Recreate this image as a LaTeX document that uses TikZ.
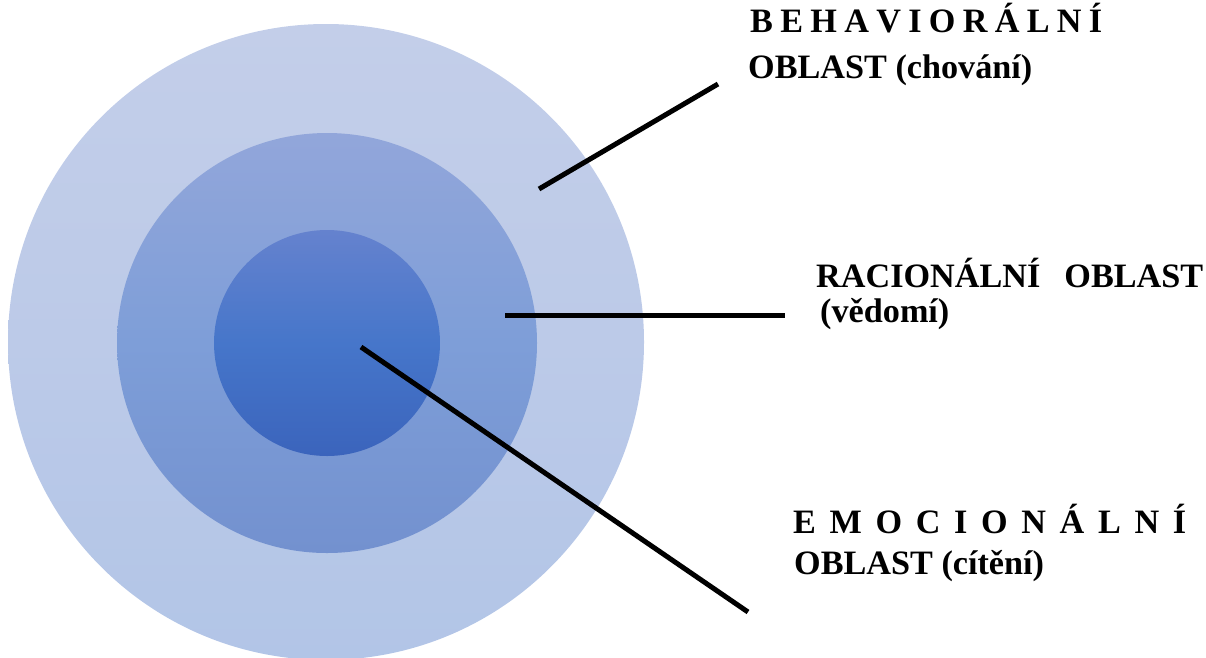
\documentclass[tikz,border=0pt]{standalone}
\usepackage{fontspec}
\setmainfont{Liberation Serif}
\begin{document}
\begin{tikzpicture}[x=1pt,y=-1pt,
  ring/.style={circle,draw=none,inner sep=0pt,minimum size=#1},
  lead/.style={line width=5pt,black},
  label/.style={anchor=base west,inner sep=0pt,font=\fontsize{34.2}{38}\selectfont\bfseries}]
\useasboundingbox (0,0) rectangle (1206,657);
\definecolor{outerT}{HTML}{C3CEE9}
\definecolor{outerM}{HTML}{BCCAE8}
\definecolor{outerB}{HTML}{B2C5E7}
\definecolor{midT}{HTML}{92A6DA}
\definecolor{midM}{HTML}{7E9ED8}
\definecolor{midB}{HTML}{7391CF}
\definecolor{innT}{HTML}{6582CE}
\definecolor{innM}{HTML}{4676CA}
\definecolor{innB}{HTML}{3B64BC}
% concentric areas
\node[ring=636pt,top color=outerT,bottom color=outerB,middle color=outerM] (outer) at (326,342) {};
\node[ring=420pt,top color=midT,bottom color=midB,middle color=midM] (mid) at (327,343) {};
\node[ring=226pt,top color=innT,bottom color=innB,middle color=innM] (inner) at (327,343) {};
% leader end points
\coordinate (b1) at (539,189);
\coordinate (b2) at (718,84);
\coordinate (r1) at (505,315);
\coordinate (r2) at (785,315);
\coordinate (e1) at (361,347);
\coordinate (e2) at (748,612);
\draw[lead] (b1) -- (b2);
\draw[lead] (r1) -- (r2);
\draw[lead] (e1) -- (e2);
% labels
\node[label] (beh1) at (750,32) {\hbox to 352pt{B\hfill E\hfill H\hfill A\hfill V\hfill I\hfill O\hfill R\hfill Á\hfill L\hfill N\hfill Í}};
\node[label] (beh2) at (748,78) {OBLAST (chování)};
\node[label] (rac1) at (816,287) {\hbox to 387pt{RACIONÁLNÍ\hfill OBLAST}};
\node[label] (rac2) at (820,322) {(vědomí)};
\node[label] (emo1) at (793,533) {\hbox to 393pt{E\hfill M\hfill O\hfill C\hfill I\hfill O\hfill N\hfill Á\hfill L\hfill N\hfill Í}};
\node[label] (emo2) at (794,574) {OBLAST (cítění)};
\end{tikzpicture}
\end{document}
